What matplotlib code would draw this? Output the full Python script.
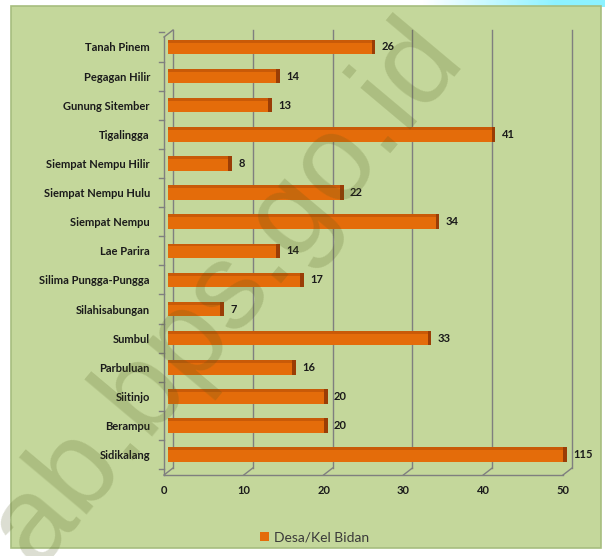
import matplotlib
matplotlib.use("Agg")
import matplotlib.pyplot as plt
import matplotlib.transforms as mtransforms
from matplotlib.patches import Rectangle
from matplotlib.lines import Line2D
import numpy as np

# Desa/Kelurahan with a village midwife, per district (bottom to top)
districts = ["Sidikalang", "Berampu", "Siitinjo", "Parbuluan", "Sumbul",
             "Silahisabungan", "Silima Pungga-Pungga", "Lae Parira",
             "Siempat Nempu", "Siempat Nempu Hulu", "Siempat Nempu Hilir",
             "Tigalingga", "Gunung Sitember", "Pegagan Hilir", "Tanah Pinem"]
desa_bidan = [115, 20, 20, 16, 33, 7, 17, 14, 34, 22, 8, 41, 13, 14, 26]
x_ticks = [0, 10, 20, 30, 40, 50]
series_name = "Desa/Kel Bidan"
watermark = "dairikab.bps.go.id"

W, H = 605, 556
fig = plt.figure(figsize=(W / 100, H / 100), dpi=100)
fig.patch.set_facecolor("white")

BAR = "#E46C0A"
BAR_TOP = "#C95A08"
BAR_END = "#9A3D06"
GRID = "#7f7f7f"
TXT = "#1a1a1a"
FONT = "Lato"

# light cyan band along the top edge
gax = fig.add_axes([0, 1 - 7 / H, 1, 7 / H], zorder=-2)
cols = np.linspace(0, 1, W)
ramp = np.clip((cols - 0.70) / 0.22, 0, 1)
white = np.array([1, 1, 1])
cyan = np.array([0.55, 0.95, 1.0])
img = (white[None, :] * (1 - ramp[:, None]) + cyan[None, :] * ramp[:, None])[None, :, :]
gax.imshow(img, aspect="auto", extent=(0, 1, 0, 1))
gax.axis("off")

# green chart panel
fig.patches.append(Rectangle((11 / W, 1 - 548 / H), (601 - 11) / W, (548 - 6) / H,
                             transform=fig.transFigure, facecolor="#c4d79b",
                             edgecolor="#a7bd7f", lw=1.2, zorder=-1))

ax = fig.add_axes([168 / W, 1 - 475 / H, 399 / W, (475 - 33) / H])
ax.set_xlim(x_ticks[0], x_ticks[-1])
ax.set_ylim(-0.70, 14.48)
ax.patch.set_alpha(0)
for s in ax.spines.values():
    s.set_visible(False)

y = np.arange(len(districts))
vals = np.array(desa_bidan, dtype=float)
shown = np.minimum(vals, x_ticks[-1])
bh = 0.5

bars = ax.barh(y, vals, height=bh, color=BAR, zorder=3, label=series_name)
ax.barh(y + bh / 2 - 0.05, vals, height=0.1, color=BAR_TOP, zorder=4)
ax.barh(y, 0.45, left=shown - 0.45, height=bh, color=BAR_END, zorder=5)

for yi, v, s in zip(y, desa_bidan, shown):
    ax.text(s + 0.8, yi, str(v), va="center", ha="left", fontsize=8,
            fontweight="bold", family=FONT, color=TXT, zorder=6)

ax.set_yticks(y, districts)
ax.tick_params(axis="y", length=0, pad=13)
for lab in ax.get_yticklabels():
    lab.set_fontweight("bold")
    lab.set_fontsize(8)
    lab.set_family(FONT)
    lab.set_color(TXT)
ax.set_xticks([])

# pseudo-3D frame: back wall gridlines, floor and left wall
bt = mtransforms.blended_transform_factory(ax.transData, fig.transFigure)
back = bt + mtransforms.ScaledTranslation(5 / 100, 0, fig.dpi_scale_trans)
front = bt + mtransforms.ScaledTranslation(-4 / 100, 0, fig.dpi_scale_trans)
fy = lambda p: 1 - p / H

for t in x_ticks:
    ax.add_line(Line2D([t, t], [fy(468), fy(30)], transform=back, color=GRID,
                       lw=1, zorder=1, clip_on=False))
    # floor connector from front edge to back wall
    p0 = front.transform((t, fy(475)))
    p1 = back.transform((t, fy(468)))
    ax.add_line(Line2D([p0[0], p1[0]], [p0[1], p1[1]], transform=None,
                       color=GRID, lw=1, zorder=1, clip_on=False))
    ax.text(t, fy(491), str(t), transform=front, ha="center", va="center",
            fontsize=8, fontweight="bold", family=FONT, color=TXT)

ax.add_line(Line2D([0, x_ticks[-1]], [fy(475), fy(475)], transform=front,
                   color=GRID, lw=1, zorder=1, clip_on=False))
ax.add_line(Line2D([0, 0], [fy(475), fy(37)], transform=front,
                   color=GRID, lw=1, zorder=1, clip_on=False))
p0 = front.transform((0, fy(37)))
p1 = back.transform((0, fy(30)))
ax.add_line(Line2D([p0[0], p1[0]], [p0[1], p1[1]], transform=None,
                   color=GRID, lw=1, zorder=1, clip_on=False))
ltick = front + mtransforms.ScaledTranslation(-5 / 100, 0, fig.dpi_scale_trans)
for b in np.arange(-0.5, len(districts), 1.0):
    p0 = ltick.transform((0, 0))
    yy = ax.transData.transform((0, b))[1]
    p1 = front.transform((0, 0))
    ax.add_line(Line2D([p0[0], p1[0]], [yy, yy], transform=None,
                       color=GRID, lw=1, zorder=1, clip_on=False))

leg = fig.legend(handles=[bars.patches[0]], labels=[series_name], loc="center",
                 bbox_to_anchor=(315 / W, 1 - 537 / H), frameon=False,
                 handlelength=0.6, handleheight=0.6, handletextpad=0.4,
                 prop={"family": FONT, "size": 10})
for t in leg.get_texts():
    t.set_color("#3a3a3a")

fig.text(466 / W, 1 - 58 / H, watermark, rotation=50, rotation_mode="anchor",
         ha="right", va="baseline", fontsize=88, family="Liberation Sans",
         color=(0.3, 0.35, 0.1), alpha=0.2, zorder=10)

fig.savefig("out.png", dpi=100, facecolor=fig.get_facecolor())
